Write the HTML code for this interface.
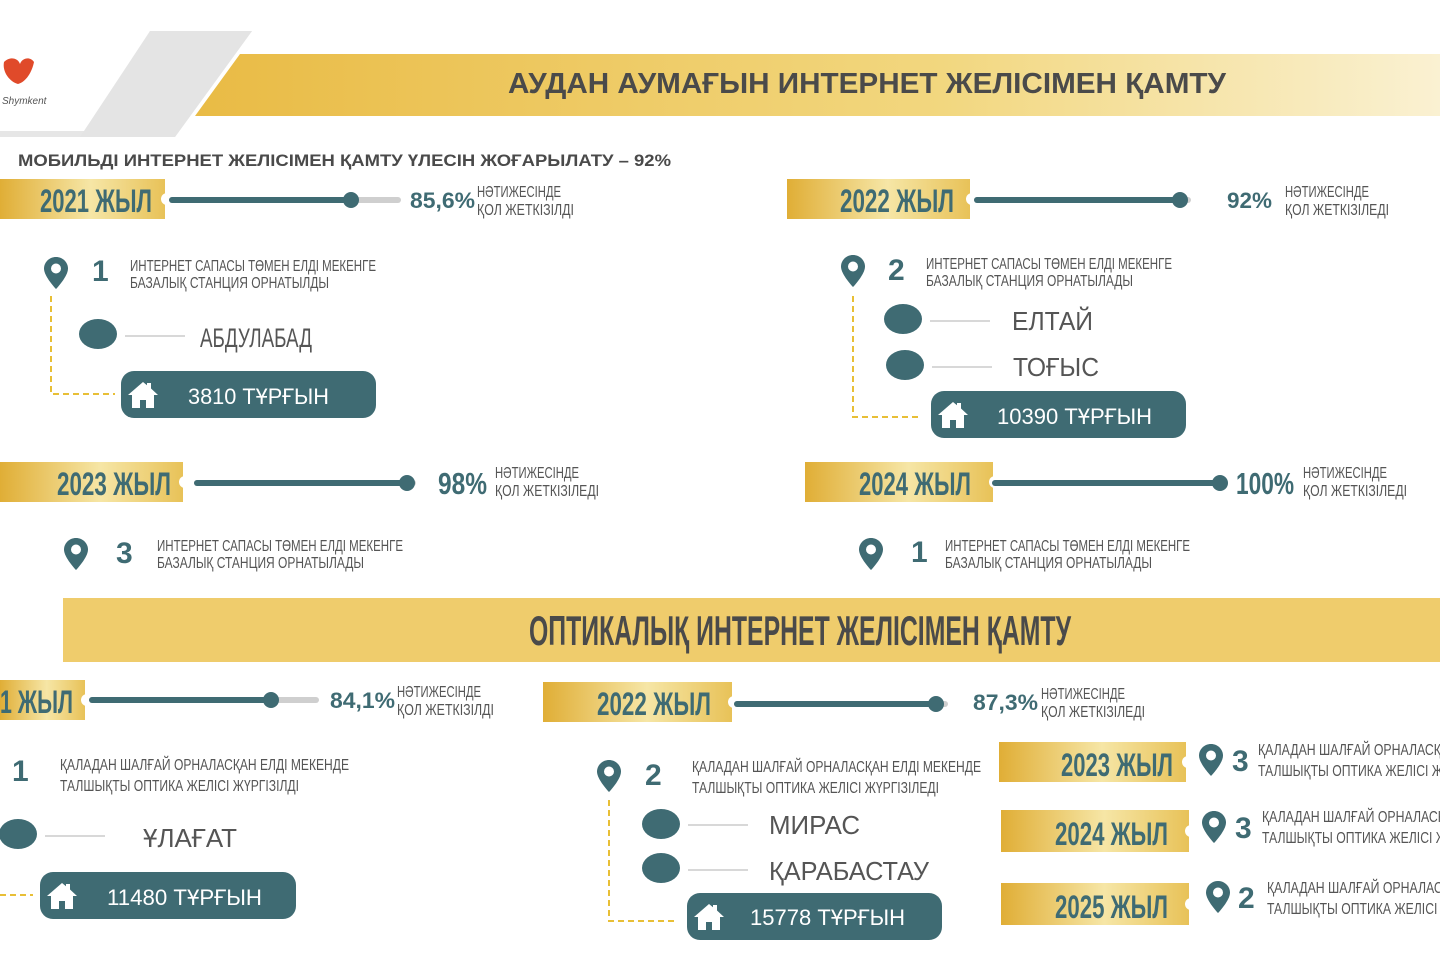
<!DOCTYPE html>
<html><head><meta charset="utf-8"><style>
html,body{margin:0;padding:0;background:#fff;}
svg{display:block}
.c{font-family:"Liberation Sans Narrow","Liberation Sans",sans-serif;}
.s{font-family:"Liberation Sans",sans-serif;}
</style></head><body>
<svg width="1440" height="958" viewBox="0 0 1440 958" xmlns="http://www.w3.org/2000/svg">
<defs>
<linearGradient id="ban" x1="0" x2="1" y1="0" y2="0"><stop offset="0" stop-color="#e9bb45"/><stop offset="0.6" stop-color="#f2d77f"/><stop offset="1" stop-color="#faf1d2"/></linearGradient>
<linearGradient id="bdg" x1="0" x2="1" y1="0" y2="0"><stop offset="0" stop-color="#e0ae36"/><stop offset="0.55" stop-color="#f6e6a6"/><stop offset="1" stop-color="#e8c258"/></linearGradient>
<symbol id="pin" viewBox="0 0 24 32"><path d="M12 0C5.4 0 0 5.2 0 11.6 0 19.5 12 32 12 32S24 19.5 24 11.6C24 5.2 18.6 0 12 0Z" fill="#3f6b73"/><circle cx="12" cy="11.5" r="5" fill="#fff"/></symbol>
<symbol id="house" viewBox="0 0 32 28"><path d="M16 1 1 14h4v13h8v-8h6v8h8V14h4L24 7.5V2h-4v2.3Z" fill="#fff"/></symbol>
</defs>

<!-- header -->
<polygon points="150,31 252,31 175,137 0,137 0,131 100,131" fill="#e6e6e6"/>
<polygon points="150,31 252,31 175,137 80,137" fill="#e4e4e4"/>
<polygon points="0,40 75,40 40,131 0,131" fill="#fff"/>
<path d="M4 62c6-6 14-4 16 2 2-6 10-8 14-2-2 10-8 20-16 22C10 82 2 72 4 62Z" fill="#e04a2a"/>
<text x="2" y="104" class="s" font-size="10" font-style="italic" fill="#555">Shymkent</text>
<polygon points="240,54 1440,54 1440,116 195,116" fill="url(#ban)"/>
<text x="867" y="93" class="s" font-size="29" font-weight="bold" fill="#4a4a4a" text-anchor="middle" textLength="718" lengthAdjust="spacingAndGlyphs">АУДАН АУМАҒЫН ИНТЕРНЕТ ЖЕЛІСІМЕН ҚАМТУ</text>
<text x="18" y="166" class="s" font-size="17" font-weight="bold" fill="#4a4a4a" textLength="653" lengthAdjust="spacingAndGlyphs">МОБИЛЬДІ ИНТЕРНЕТ ЖЕЛІСІМЕН ҚАМТУ ҮЛЕСІН ЖОҒАРЫЛАТУ – 92%</text>

<!-- Row 1 left -->
<rect x="0" y="179" width="165" height="40" fill="url(#bdg)"/><circle cx="167" cy="199" r="6" fill="#fff"/>
<text x="40" y="212" class="c" font-size="32" font-weight="bold" fill="#3f6b73" textLength="112" lengthAdjust="spacingAndGlyphs">2021 ЖЫЛ</text>
<line x1="172" y1="200" x2="398" y2="200" stroke="#cfcfcf" stroke-width="6" stroke-linecap="round"/>
<line x1="172" y1="200" x2="351" y2="200" stroke="#3f6b73" stroke-width="6" stroke-linecap="round"/>
<circle cx="351" cy="200" r="8" fill="#3f6b73"/>
<text x="410" y="208" class="s" font-size="22" font-weight="bold" fill="#3f6b73" textLength="65" lengthAdjust="spacingAndGlyphs">85,6%</text>
<text x="477" y="197" class="c" font-size="16" fill="#555" textLength="84" lengthAdjust="spacingAndGlyphs">НӘТИЖЕСІНДЕ</text>
<text x="477" y="215" class="c" font-size="16" fill="#555" textLength="97" lengthAdjust="spacingAndGlyphs">ҚОЛ ЖЕТКІЗІЛДІ</text>

<use href="#pin" x="44" y="257" width="24" height="32"/>
<text x="92" y="281" class="s" font-size="30" font-weight="bold" fill="#3f6b73">1</text>
<text x="130" y="271" class="c" font-size="16" fill="#555" textLength="246" lengthAdjust="spacingAndGlyphs">ИНТЕРНЕТ САПАСЫ ТӨМЕН ЕЛДІ МЕКЕНГЕ</text>
<text x="130" y="288" class="c" font-size="16" fill="#555" textLength="199" lengthAdjust="spacingAndGlyphs">БАЗАЛЫҚ СТАНЦИЯ ОРНАТЫЛДЫ</text>
<path d="M51 296V394H115" fill="none" stroke="#e8bf36" stroke-width="2" stroke-dasharray="6,4"/>
<ellipse cx="98" cy="334" rx="19" ry="15" fill="#3f6b73"/>
<line x1="125" y1="336" x2="185" y2="336" stroke="#ccc" stroke-width="1.5"/>
<text x="200" y="347" class="c" font-size="27" fill="#555" textLength="112" lengthAdjust="spacingAndGlyphs">АБДУЛАБАД</text>
<rect x="121" y="371" width="255" height="47" rx="13" fill="#3f6b73"/>
<use href="#house" x="127" y="381" width="32" height="28"/>
<text x="188" y="404" class="s" font-size="22" fill="#fff" textLength="141" lengthAdjust="spacingAndGlyphs">3810 ТҰРҒЫН</text>

<!-- Row 1 right -->
<rect x="787" y="179" width="183" height="40" fill="url(#bdg)"/><circle cx="972" cy="199" r="6" fill="#fff"/>
<text x="840" y="212" class="c" font-size="32" font-weight="bold" fill="#3f6b73" textLength="114" lengthAdjust="spacingAndGlyphs">2022 ЖЫЛ</text>
<line x1="977" y1="200" x2="1188" y2="200" stroke="#cfcfcf" stroke-width="6" stroke-linecap="round"/>
<line x1="977" y1="200" x2="1180" y2="200" stroke="#3f6b73" stroke-width="6" stroke-linecap="round"/>
<circle cx="1180" cy="200" r="8" fill="#3f6b73"/>
<text x="1227" y="208" class="s" font-size="22" font-weight="bold" fill="#3f6b73" textLength="45" lengthAdjust="spacingAndGlyphs">92%</text>
<text x="1285" y="197" class="c" font-size="16" fill="#555" textLength="84" lengthAdjust="spacingAndGlyphs">НӘТИЖЕСІНДЕ</text>
<text x="1285" y="215" class="c" font-size="16" fill="#555" textLength="104" lengthAdjust="spacingAndGlyphs">ҚОЛ ЖЕТКІЗІЛЕДІ</text>

<use href="#pin" x="841" y="255" width="24" height="32"/>
<text x="888" y="280" class="s" font-size="30" font-weight="bold" fill="#3f6b73">2</text>
<text x="926" y="269" class="c" font-size="16" fill="#555" textLength="246" lengthAdjust="spacingAndGlyphs">ИНТЕРНЕТ САПАСЫ ТӨМЕН ЕЛДІ МЕКЕНГЕ</text>
<text x="926" y="286" class="c" font-size="16" fill="#555" textLength="207" lengthAdjust="spacingAndGlyphs">БАЗАЛЫҚ СТАНЦИЯ ОРНАТЫЛАДЫ</text>
<path d="M853 296V417H918" fill="none" stroke="#e8bf36" stroke-width="2" stroke-dasharray="6,4"/>
<ellipse cx="903" cy="319" rx="19" ry="15" fill="#3f6b73"/>
<ellipse cx="905" cy="365" rx="19" ry="15" fill="#3f6b73"/>
<line x1="930" y1="321" x2="990" y2="321" stroke="#ccc" stroke-width="1.5"/>
<line x1="932" y1="367" x2="992" y2="367" stroke="#ccc" stroke-width="1.5"/>
<text x="1012" y="330" class="s" font-size="26" fill="#555" textLength="81" lengthAdjust="spacingAndGlyphs">ЕЛТАЙ</text>
<text x="1013" y="376" class="s" font-size="26" fill="#555" textLength="86" lengthAdjust="spacingAndGlyphs">ТОҒЫС</text>
<rect x="931" y="391" width="255" height="47" rx="13" fill="#3f6b73"/>
<use href="#house" x="937" y="401" width="32" height="28"/>
<text x="997" y="424" class="s" font-size="22" fill="#fff" textLength="155" lengthAdjust="spacingAndGlyphs">10390 ТҰРҒЫН</text>

<!-- Row 2 -->
<rect x="0" y="462" width="183" height="40" fill="url(#bdg)"/><circle cx="185" cy="482" r="6" fill="#fff"/>
<text x="57" y="495" class="c" font-size="32" font-weight="bold" fill="#3f6b73" textLength="114" lengthAdjust="spacingAndGlyphs">2023 ЖЫЛ</text>
<line x1="197" y1="483" x2="413" y2="483" stroke="#cfcfcf" stroke-width="6" stroke-linecap="round"/>
<line x1="197" y1="483" x2="407" y2="483" stroke="#3f6b73" stroke-width="6" stroke-linecap="round"/>
<circle cx="407" cy="483" r="8" fill="#3f6b73"/>
<text x="438" y="494" class="c" font-size="31" font-weight="bold" fill="#3f6b73" textLength="49" lengthAdjust="spacingAndGlyphs">98%</text>
<text x="495" y="478" class="c" font-size="16" fill="#555" textLength="84" lengthAdjust="spacingAndGlyphs">НӘТИЖЕСІНДЕ</text>
<text x="495" y="496" class="c" font-size="16" fill="#555" textLength="104" lengthAdjust="spacingAndGlyphs">ҚОЛ ЖЕТКІЗІЛЕДІ</text>

<rect x="805" y="462" width="188" height="40" fill="url(#bdg)"/><circle cx="995" cy="482" r="6" fill="#fff"/>
<text x="859" y="495" class="c" font-size="32" font-weight="bold" fill="#3f6b73" textLength="112" lengthAdjust="spacingAndGlyphs">2024 ЖЫЛ</text>
<line x1="995" y1="483" x2="1220" y2="483" stroke="#3f6b73" stroke-width="6" stroke-linecap="round"/>
<circle cx="1220" cy="483" r="8" fill="#3f6b73"/>
<text x="1236" y="494" class="c" font-size="31" font-weight="bold" fill="#3f6b73" textLength="58" lengthAdjust="spacingAndGlyphs">100%</text>
<text x="1303" y="478" class="c" font-size="16" fill="#555" textLength="84" lengthAdjust="spacingAndGlyphs">НӘТИЖЕСІНДЕ</text>
<text x="1303" y="496" class="c" font-size="16" fill="#555" textLength="104" lengthAdjust="spacingAndGlyphs">ҚОЛ ЖЕТКІЗІЛЕДІ</text>

<use href="#pin" x="64" y="538" width="24" height="32"/>
<text x="116" y="563" class="s" font-size="30" font-weight="bold" fill="#3f6b73">3</text>
<text x="157" y="551" class="c" font-size="16" fill="#555" textLength="246" lengthAdjust="spacingAndGlyphs">ИНТЕРНЕТ САПАСЫ ТӨМЕН ЕЛДІ МЕКЕНГЕ</text>
<text x="157" y="568" class="c" font-size="16" fill="#555" textLength="207" lengthAdjust="spacingAndGlyphs">БАЗАЛЫҚ СТАНЦИЯ ОРНАТЫЛАДЫ</text>
<use href="#pin" x="859" y="538" width="24" height="32"/>
<text x="911" y="562" class="s" font-size="30" font-weight="bold" fill="#3f6b73">1</text>
<text x="945" y="551" class="c" font-size="16" fill="#555" textLength="245" lengthAdjust="spacingAndGlyphs">ИНТЕРНЕТ САПАСЫ ТӨМЕН ЕЛДІ МЕКЕНГЕ</text>
<text x="945" y="568" class="c" font-size="16" fill="#555" textLength="207" lengthAdjust="spacingAndGlyphs">БАЗАЛЫҚ СТАНЦИЯ ОРНАТЫЛАДЫ</text>

<!-- Optical banner -->
<rect x="63" y="598" width="1377" height="64" fill="#efcc6c"/>
<text x="800" y="645" class="c" font-size="42" font-weight="bold" fill="#4a4a4a" text-anchor="middle" textLength="542" lengthAdjust="spacingAndGlyphs">ОПТИКАЛЫҚ ИНТЕРНЕТ ЖЕЛІСІМЕН ҚАМТУ</text>

<!-- Row 3 left -->
<rect x="0" y="680" width="85" height="40" fill="url(#bdg)"/><circle cx="87" cy="700" r="6" fill="#fff"/>
<text x="0" y="713" class="c" font-size="32" font-weight="bold" fill="#3f6b73" textLength="73" lengthAdjust="spacingAndGlyphs">1 ЖЫЛ</text>
<line x1="92" y1="700" x2="316" y2="700" stroke="#cfcfcf" stroke-width="6" stroke-linecap="round"/>
<line x1="92" y1="700" x2="271" y2="700" stroke="#3f6b73" stroke-width="6" stroke-linecap="round"/>
<circle cx="271" cy="700" r="8" fill="#3f6b73"/>
<text x="330" y="708" class="s" font-size="22" font-weight="bold" fill="#3f6b73" textLength="65" lengthAdjust="spacingAndGlyphs">84,1%</text>
<text x="397" y="697" class="c" font-size="16" fill="#555" textLength="84" lengthAdjust="spacingAndGlyphs">НӘТИЖЕСІНДЕ</text>
<text x="397" y="715" class="c" font-size="16" fill="#555" textLength="97" lengthAdjust="spacingAndGlyphs">ҚОЛ ЖЕТКІЗІЛДІ</text>

<text x="12" y="781" class="s" font-size="30" font-weight="bold" fill="#3f6b73">1</text>
<text x="60" y="770" class="c" font-size="16" fill="#555" textLength="289" lengthAdjust="spacingAndGlyphs">ҚАЛАДАН ШАЛҒАЙ ОРНАЛАСҚАН ЕЛДІ МЕКЕНДЕ</text>
<text x="60" y="791" class="c" font-size="16" fill="#555" textLength="239" lengthAdjust="spacingAndGlyphs">ТАЛШЫҚТЫ ОПТИКА ЖЕЛІСІ ЖҮРГІЗІЛДІ</text>
<path d="M0 895H33" fill="none" stroke="#e8bf36" stroke-width="2" stroke-dasharray="6,4"/>
<ellipse cx="18" cy="834" rx="19" ry="15" fill="#3f6b73"/>
<line x1="45" y1="836" x2="105" y2="836" stroke="#ccc" stroke-width="1.5"/>
<text x="143" y="847" class="s" font-size="26" fill="#555" textLength="94" lengthAdjust="spacingAndGlyphs">ҰЛАҒАТ</text>
<rect x="40" y="872" width="256" height="47" rx="13" fill="#3f6b73"/>
<use href="#house" x="46" y="882" width="32" height="28"/>
<text x="107" y="905" class="s" font-size="22" fill="#fff" textLength="155" lengthAdjust="spacingAndGlyphs">11480 ТҰРҒЫН</text>

<!-- Row 3 center -->
<rect x="543" y="682" width="189" height="40" fill="url(#bdg)"/><circle cx="734" cy="702" r="6" fill="#fff"/>
<text x="597" y="715" class="c" font-size="32" font-weight="bold" fill="#3f6b73" textLength="114" lengthAdjust="spacingAndGlyphs">2022 ЖЫЛ</text>
<line x1="737" y1="704" x2="945" y2="704" stroke="#cfcfcf" stroke-width="6" stroke-linecap="round"/>
<line x1="737" y1="704" x2="936" y2="704" stroke="#3f6b73" stroke-width="6" stroke-linecap="round"/>
<circle cx="936" cy="704" r="8" fill="#3f6b73"/>
<text x="973" y="710" class="s" font-size="22" font-weight="bold" fill="#3f6b73" textLength="65" lengthAdjust="spacingAndGlyphs">87,3%</text>
<text x="1041" y="699" class="c" font-size="16" fill="#555" textLength="84" lengthAdjust="spacingAndGlyphs">НӘТИЖЕСІНДЕ</text>
<text x="1041" y="717" class="c" font-size="16" fill="#555" textLength="104" lengthAdjust="spacingAndGlyphs">ҚОЛ ЖЕТКІЗІЛЕДІ</text>

<use href="#pin" x="597" y="760" width="24" height="32"/>
<text x="645" y="785" class="s" font-size="30" font-weight="bold" fill="#3f6b73">2</text>
<text x="692" y="772" class="c" font-size="16" fill="#555" textLength="289" lengthAdjust="spacingAndGlyphs">ҚАЛАДАН ШАЛҒАЙ ОРНАЛАСҚАН ЕЛДІ МЕКЕНДЕ</text>
<text x="692" y="793" class="c" font-size="16" fill="#555" textLength="247" lengthAdjust="spacingAndGlyphs">ТАЛШЫҚТЫ ОПТИКА ЖЕЛІСІ ЖҮРГІЗІЛЕДІ</text>
<path d="M609 800V921H675" fill="none" stroke="#e8bf36" stroke-width="2" stroke-dasharray="6,4"/>
<ellipse cx="661" cy="824" rx="19" ry="15" fill="#3f6b73"/>
<ellipse cx="661" cy="868" rx="19" ry="15" fill="#3f6b73"/>
<line x1="688" y1="825" x2="748" y2="825" stroke="#ccc" stroke-width="1.5"/>
<line x1="688" y1="870" x2="748" y2="870" stroke="#ccc" stroke-width="1.5"/>
<text x="769" y="834" class="s" font-size="26" fill="#555" textLength="91" lengthAdjust="spacingAndGlyphs">МИРАС</text>
<text x="769" y="880" class="s" font-size="26" fill="#555" textLength="160" lengthAdjust="spacingAndGlyphs">ҚАРАБАСТАУ</text>
<rect x="687" y="893" width="255" height="47" rx="13" fill="#3f6b73"/>
<use href="#house" x="693" y="903" width="32" height="28"/>
<text x="750" y="925" class="s" font-size="22" fill="#fff" textLength="155" lengthAdjust="spacingAndGlyphs">15778 ТҰРҒЫН</text>

<!-- Row 3 right -->
<rect x="999" y="742" width="187" height="40" fill="url(#bdg)"/><circle cx="1188" cy="762" r="6" fill="#fff"/>
<text x="1061" y="776" class="c" font-size="32" font-weight="bold" fill="#3f6b73" textLength="112" lengthAdjust="spacingAndGlyphs">2023 ЖЫЛ</text>
<use href="#pin" x="1199" y="744" width="24" height="32"/>
<text x="1232" y="771" class="s" font-size="30" font-weight="bold" fill="#3f6b73">3</text>
<text x="1258" y="755" class="c" font-size="16" fill="#555" textLength="200" lengthAdjust="spacingAndGlyphs">ҚАЛАДАН ШАЛҒАЙ ОРНАЛАСҚАН</text>
<text x="1258" y="776" class="c" font-size="16" fill="#555" textLength="200" lengthAdjust="spacingAndGlyphs">ТАЛШЫҚТЫ ОПТИКА ЖЕЛІСІ ЖҮР</text>

<rect x="1001" y="810" width="188" height="42" fill="url(#bdg)"/><circle cx="1191" cy="831" r="6" fill="#fff"/>
<text x="1055" y="845" class="c" font-size="32" font-weight="bold" fill="#3f6b73" textLength="113" lengthAdjust="spacingAndGlyphs">2024 ЖЫЛ</text>
<use href="#pin" x="1202" y="811" width="24" height="32"/>
<text x="1235" y="838" class="s" font-size="30" font-weight="bold" fill="#3f6b73">3</text>
<text x="1262" y="822" class="c" font-size="16" fill="#555" textLength="200" lengthAdjust="spacingAndGlyphs">ҚАЛАДАН ШАЛҒАЙ ОРНАЛАСҚАН</text>
<text x="1262" y="843" class="c" font-size="16" fill="#555" textLength="200" lengthAdjust="spacingAndGlyphs">ТАЛШЫҚТЫ ОПТИКА ЖЕЛІСІ ЖҮР</text>

<rect x="1001" y="883" width="188" height="42" fill="url(#bdg)"/><circle cx="1191" cy="904" r="6" fill="#fff"/>
<text x="1055" y="918" class="c" font-size="32" font-weight="bold" fill="#3f6b73" textLength="113" lengthAdjust="spacingAndGlyphs">2025 ЖЫЛ</text>
<use href="#pin" x="1206" y="881" width="24" height="32"/>
<text x="1238" y="908" class="s" font-size="30" font-weight="bold" fill="#3f6b73">2</text>
<text x="1267" y="893" class="c" font-size="16" fill="#555" textLength="200" lengthAdjust="spacingAndGlyphs">ҚАЛАДАН ШАЛҒАЙ ОРНАЛАСҚАН</text>
<text x="1267" y="914" class="c" font-size="16" fill="#555" textLength="200" lengthAdjust="spacingAndGlyphs">ТАЛШЫҚТЫ ОПТИКА ЖЕЛІСІ ЖҮР</text>
</svg>
</body></html>
